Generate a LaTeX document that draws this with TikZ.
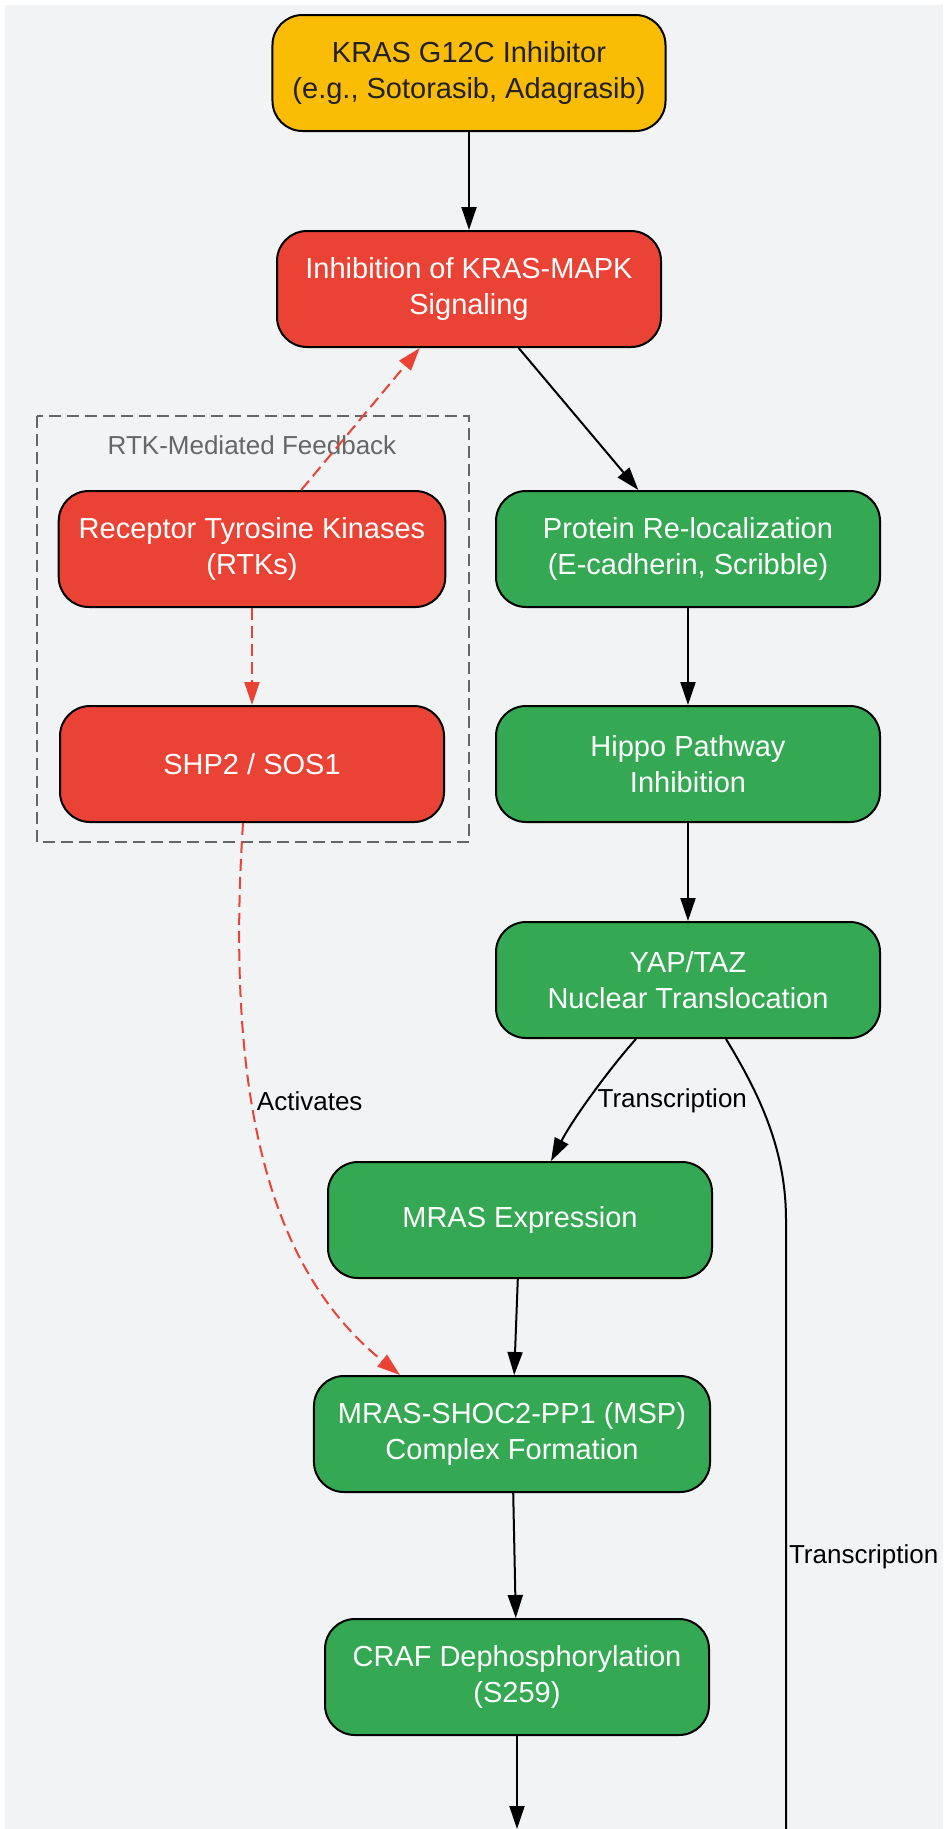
\documentclass[tikz,border=0pt]{standalone}
\usepackage{fontspec}
\setmainfont{Liberation Sans}
\usepackage{tikz}
\usetikzlibrary{arrows.meta, positioning}
\usepackage{xcolor}
\definecolor{bgGray}{HTML}{F1F3F4}
\definecolor{gYellow}{HTML}{FBBC05}
\definecolor{gRed}{HTML}{EA4335}
\definecolor{gGreen}{HTML}{34A853}
\definecolor{txtDark}{HTML}{202124}
\definecolor{clGray}{HTML}{666666}

\begin{document}
\begin{tikzpicture}[x=1pt, y=-1pt,
    box/.style={draw=black, line width=2pt, rounded corners=30pt, minimum width=384pt,
        minimum height=116pt, inner xsep=20pt, align=center, text=white,
        font=\fontsize{29}{36}\selectfont},
    drug/.style={box, fill=gYellow, text=txtDark},
    redbox/.style={box, fill=gRed},
    greenbox/.style={box, fill=gGreen},
    arr/.style={-{Triangle[length=23pt, width=15pt]}, line width=2pt},
    feedback/.style={arr, gRed, dash pattern=on 12pt off 6pt},
    lbl/.style={inner sep=0pt, text=black, font=\fontsize{26}{30}\selectfont}]
            % Background
            \clip (0,0) rectangle (943,1829);
            \fill[white] (0,0) rectangle (943,1829);
            \fill[bgGray] (5,5) rectangle (943,1829);
            % Cluster
            \draw[clGray, line width=2pt, dash pattern=on 12pt off 6pt] (37,416) rectangle (469,842);
            \node[lbl, text=clGray] (fbtitle) at (252,445) {RTK-Mediated Feedback};
            % Nodes
            \node[drug] (kras) at (469,73) {KRAS G12C Inhibitor\\(e.g., Sotorasib, Adagrasib)};
            \node[redbox, below=98pt of kras] (inhib) {Inhibition of KRAS-MAPK\\Signaling};
            \node[redbox] (rtk) at (252,549) {Receptor Tyrosine Kinases\\(RTKs)};
            \node[redbox, below=97pt of rtk] (shp) {SHP2 / SOS1};
            \node[greenbox] (prot) at (688,549) {Protein Re-localization\\(E-cadherin, Scribble)};
            \node[greenbox, below=97pt of prot] (hippo) {Hippo Pathway\\Inhibition};
            \node[greenbox, below=98pt of hippo] (yap) {YAP/TAZ\\Nuclear Translocation};
            \node[greenbox] (mras) at (520,1220) {MRAS Expression};
            \node[greenbox, inner xsep=24pt] (msp) at (512,1434) {MRAS-SHOC2-PP1 (MSP)\\Complex Formation};
            \node[greenbox] (craf) at (517,1677) {CRAF Dephosphorylation\\(S259)};
            \coordinate (trEnd) at (786,1829);
            \coordinate (crafOut) at (517,1829);
            % Arrows
            \draw[arr] (kras) -- (inhib);
            \draw[arr] (inhib) -- (prot);
            \draw[feedback] (rtk) -- (inhib);
            \draw[feedback] (rtk) -- (shp);
            \draw[arr] (prot) -- (hippo);
            \draw[arr] (hippo) -- (yap);
            \draw[arr] ([xshift=-52pt]yap.south) .. controls (615,1062) and (575,1115) .. ([xshift=31pt]mras.north)
                node[lbl, pos=0.5, anchor=west, xshift=2pt, yshift=-9pt] {Transcription};
            \draw[line width=2pt] ([xshift=38pt]yap.south) .. controls (760,1095) and (786,1150) .. (trEnd |- mras)
                -- node[lbl, pos=0.553, anchor=west, xshift=2pt] {Transcription} (trEnd);
            \draw[feedback] ([xshift=-9pt]shp.south) .. controls (225,1100) and (270,1270) .. ([xshift=-112pt]msp.north)
                node[lbl, pos=0.39, anchor=west, xshift=4pt] {Activates};
            \draw[arr] (mras) -- (msp);
            \draw[arr] (msp) -- (craf);
            \draw[arr] (craf) -- (crafOut);
        \end{tikzpicture}
\end{document}
